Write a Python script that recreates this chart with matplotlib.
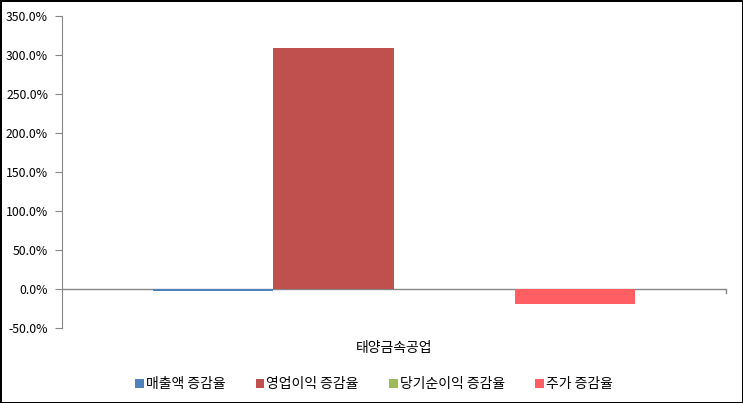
import numpy as np
import matplotlib
matplotlib.use("Agg")
from matplotlib import pyplot as plt
from matplotlib.ticker import FuncFormatter

plt.rcParams['font.family'] = ['Noto Sans CJK KR', 'DejaVu Sans']

# data
category = "태양금속공업"
series_names = ["매출액 증감율", "영업이익 증감율", "당기순이익 증감율", "주가 증감율"]
series_values = [-2.2, 308.5, 0.0, -19.6]
series_colors = ["#4F81BD", "#C0504D", "#9BBB59", "#FF5F62"]

fig = plt.figure(figsize=(7.43, 4.03), dpi=100)
fig.patch.set_edgecolor("black")
fig.patch.set_linewidth(2)

ax = fig.add_axes([62 / 743, 1 - 328 / 403, (726 - 62) / 743, (328 - 16) / 403])

n = len(series_names)
width = 1.0 / (n + 1.5)
offsets = (np.arange(n) - (n - 1) / 2) * width
for name, val, col, off in zip(series_names, series_values, series_colors, offsets):
    ax.bar(off, val, width=width, color=col, label=name, zorder=3)

ax.set_xlim(-0.5, 0.5)
ax.set_ylim(-50, 350)
ax.set_yticks(np.arange(-50, 351, 50))
ax.yaxis.set_major_formatter(FuncFormatter(lambda v, p: "%.1f%%" % v))
ax.tick_params(axis='y', direction='out', length=5, color='#868686', labelsize=8.8, pad=5)
ax.set_xticks([])

for s in ["top", "right", "bottom"]:
    ax.spines[s].set_visible(False)
ax.spines["left"].set_color("#868686")

# category axis drawn at zero
ax.axhline(0, color="#868686", linewidth=1.0, zorder=2)
ax.plot([0.5, 0.5], [0, -5], color="#868686", linewidth=1.0, clip_on=False, zorder=2)

ax.text(0, -76, category, ha="center", va="center", fontsize=10)

ax.legend(loc="center", bbox_to_anchor=(0.47, -0.18), ncol=4, frameon=False,
          fontsize=10, handlelength=0.6, handleheight=0.6, handletextpad=0.15,
          columnspacing=2.2)

fig.savefig("out.png", dpi=100, edgecolor=fig.get_edgecolor())
